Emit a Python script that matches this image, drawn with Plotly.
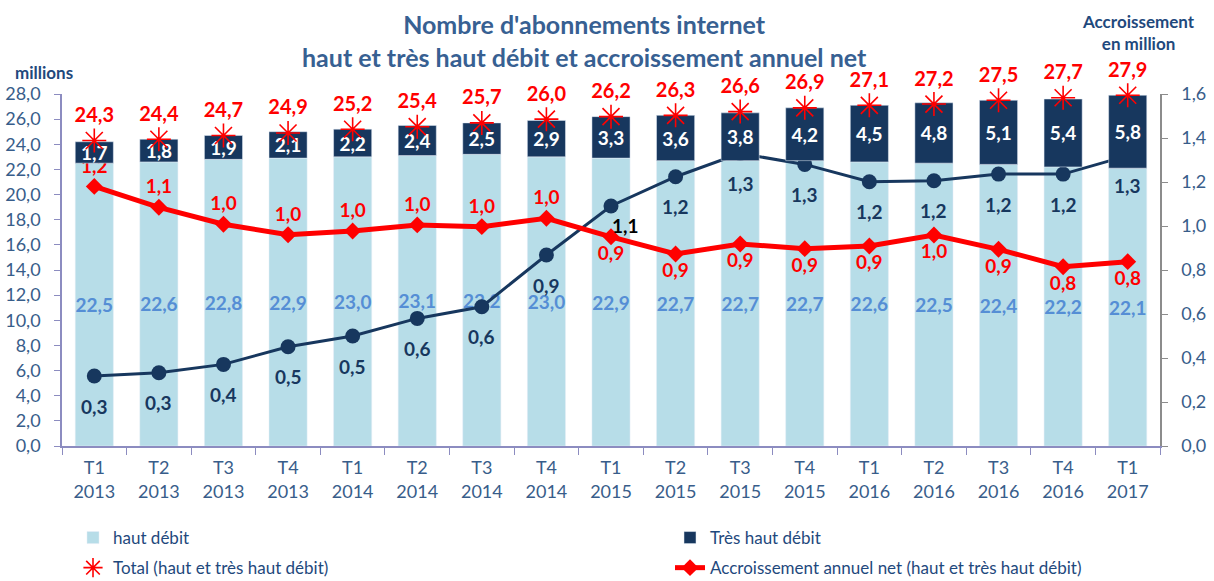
import plotly.graph_objects as go

categories = ["T1<br>2013", "T2<br>2013", "T3<br>2013", "T4<br>2013",
              "T1<br>2014", "T2<br>2014", "T3<br>2014", "T4<br>2014",
              "T1<br>2015", "T2<br>2015", "T3<br>2015", "T4<br>2015",
              "T1<br>2016", "T2<br>2016", "T3<br>2016", "T4<br>2016",
              "T1<br>2017"]
haut_debit = [22.5, 22.6, 22.8, 22.9, 23.0, 23.1, 23.2, 23.0, 22.9, 22.7, 22.7, 22.7,
              22.6, 22.5, 22.4, 22.2, 22.1]
tres_haut_debit = [1.7, 1.8, 1.9, 2.1, 2.2, 2.4, 2.5, 2.9, 3.3, 3.6, 3.8, 4.2,
                   4.5, 4.8, 5.1, 5.4, 5.8]
total = [24.3, 24.4, 24.7, 24.9, 25.2, 25.4, 25.7, 26.0, 26.2, 26.3, 26.6, 26.9,
         27.1, 27.2, 27.5, 27.7, 27.9]
accr_total = [1.18, 1.085, 1.008, 0.96, 0.977, 1.005, 0.997, 1.035, 0.951, 0.873, 0.918, 0.897,
              0.909, 0.959, 0.894, 0.815, 0.838]
accr_total_labels = [1.2, 1.1, 1.0, 1.0, 1.0, 1.0, 1.0, 1.0, 0.9, 0.9, 0.9, 0.9,
                     0.9, 1.0, 0.9, 0.8, 0.8]
accr_thd = [0.318, 0.333, 0.371, 0.451, 0.5, 0.58, 0.633, 0.868, 1.091, 1.224, 1.33, 1.28,
            1.201, 1.206, 1.236, 1.236, 1.32]
accr_thd_labels = [0.3, 0.3, 0.4, 0.5, 0.5, 0.6, 0.6, 0.9, 1.1, 1.2, 1.3, 1.3,
                   1.2, 1.2, 1.2, 1.2, 1.3]

FONT = "Lato"
LIGHT = "#B7DDE8"
NAVY = "#17375E"
RED = "#FF0000"
TICK = "#385D8A"
LABEL = "#1F497D"

# plot area in pixels
L, R, T, B = 62, 1160, 94, 446


def px_x(x):
    return (x - L) / (R - L)


def px_y(y):
    return (B - y) / (B - T)


def fr(v):
    return f"{v:.1f}".replace(".", ",")


fig = go.Figure()

fig.add_trace(go.Bar(
    x=categories, y=haut_debit, name="haut débit", marker_color=LIGHT, width=0.59,
    text=[fr(v) for v in haut_debit], textposition="inside", insidetextanchor="middle",
    textangle=0, constraintext="none",
    textfont=dict(family=FONT, size=19, color="#558ED5", weight="bold"),
    legend="legend", legendgroup="a", yaxis="y"))

fig.add_trace(go.Bar(
    x=categories, y=tres_haut_debit, base=haut_debit, name="Très haut débit",
    marker_color=NAVY, width=0.59,
    text=[fr(v) for v in tres_haut_debit], textposition="inside", insidetextanchor="middle",
    textangle=0, constraintext="none",
    textfont=dict(family=FONT, size=19, color="white", weight="bold"),
    legend="legend2", legendgroup="b", yaxis="y3"))

fig.add_trace(go.Scatter(
    x=categories, y=total, name="Total (haut et très haut débit)", mode="markers+text",
    marker=dict(symbol="asterisk-open", size=20, color=RED, line=dict(color=RED, width=1.6)),
    text=[fr(v) for v in total], textposition="top center", cliponaxis=False,
    textfont=dict(family=FONT, size=20, color=RED, weight="bold"),
    legend="legend", legendgroup="c", yaxis="y3"))

fig.add_trace(go.Scatter(
    x=categories, y=accr_thd, mode="lines+markers", showlegend=False, cliponaxis=False,
    line=dict(color=NAVY, width=3), marker=dict(symbol="circle", size=15, color=NAVY),
    yaxis="y2"))

pos_red = ["top center"] * 8 + ["bottom center"] * 9
fig.add_trace(go.Scatter(
    x=categories, y=accr_total, name="Accroissement annuel net (haut et très haut débit)",
    mode="lines+markers+text", cliponaxis=False,
    line=dict(color=RED, width=5), marker=dict(symbol="diamond", size=13, color=RED),
    text=[fr(v) for v in accr_total_labels], textposition=pos_red,
    textfont=dict(family=FONT, size=19, color=RED, weight="bold"),
    legend="legend2", legendgroup="d", yaxis="y2"))

for i, (c, v, lab) in enumerate(zip(categories, accr_thd, accr_thd_labels)):
    special = (i == 8)
    fig.add_annotation(
        x=c, y=v, yref="y2", text=fr(lab), showarrow=False,
        xshift=14 if special else 0, yshift=-20 if special else -30,
        font=dict(family=FONT, size=19, color="black" if special else NAVY, weight="bold"))

fig.add_annotation(x=px_x(584), y=px_y(40), xref="paper", yref="paper",
                   text="<b>Nombre d'abonnements internet<br>haut et très haut débit et accroissement annuel net</b>",
                   showarrow=False, xanchor="center", yanchor="middle",
                   font=dict(family=FONT, size=25, color="#376092"))
fig.add_annotation(x=px_x(44), y=px_y(72), xref="paper", yref="paper", text="<b>millions</b>",
                   showarrow=False, xanchor="center", yanchor="middle",
                   font=dict(family=FONT, size=17, color=LABEL))
fig.add_annotation(x=px_x(1138), y=px_y(33), xref="paper", yref="paper",
                   text="<b>Accroissement<br>en million</b>", showarrow=False,
                   xanchor="center", yanchor="middle",
                   font=dict(family=FONT, size=17, color=LABEL))

legend_common = dict(
    orientation="v", xanchor="left", yanchor="top", y=px_y(520),
    tracegroupgap=5, traceorder="grouped",
    font=dict(family=FONT, size=17, color=LABEL), bgcolor="rgba(0,0,0,0)")

fig.update_layout(
    width=1214, height=581,
    margin=dict(l=L, r=1214 - R, t=T, b=581 - B, autoexpand=False),
    plot_bgcolor="white", paper_bgcolor="white",
    separators=", ",
    showlegend=True,
    xaxis=dict(
        type="category", range=[-0.5, len(categories) - 0.5],
        showgrid=False, showline=True, linecolor="#8C8CC0", linewidth=1.5,
        ticks="outside", tickson="boundaries", ticklen=7, tickcolor="#8C8CC0",
        ticklabelstandoff=5,
        tickfont=dict(family=FONT, size=18, color=TICK)),
    yaxis=dict(
        range=[0, 28], dtick=2, tickformat=".1f", showgrid=False, zeroline=False,
        showline=True, linecolor="#8C8CC0", linewidth=1.5, ticks="outside", ticklen=6,
        tickcolor="#8C8CC0", ticklabelstandoff=10,
        tickfont=dict(family=FONT, size=18, color=TICK)),
    yaxis2=dict(
        range=[0, 1.6], dtick=0.2, tickformat=".1f", overlaying="y", side="right",
        showgrid=False, zeroline=False, showline=True, linecolor="#8C8C8C", linewidth=1.5,
        ticks="outside", ticklen=6, tickcolor="#8C8C8C", ticklabelstandoff=10,
        tickfont=dict(family=FONT, size=18, color=TICK)),
    yaxis3=dict(range=[0, 28], overlaying="y", visible=False, showgrid=False, zeroline=False),
    legend=dict(x=px_x(73), **legend_common),
    legend2=dict(x=px_x(670), **legend_common),
)

fig.write_html(
    "out.html",
    config={"displayModeBar": False},
    post_script="document.body.style.margin='0';document.body.style.overflow='hidden';")
